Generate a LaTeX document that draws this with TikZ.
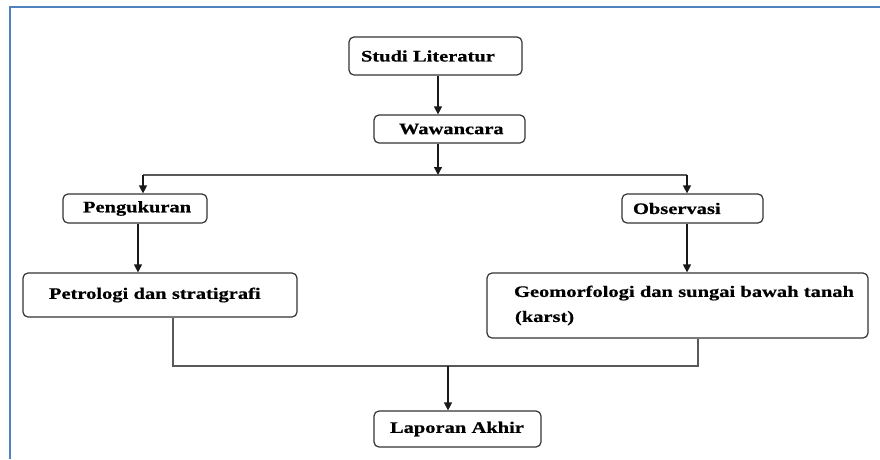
\documentclass[tikz,border=0pt]{standalone}
\usepackage{fontspec}
\newfontfamily\kotakfont[FakeStretch=1.28, FakeBold=0.6]{Liberation Serif}
\usetikzlibrary{arrows.meta}
\definecolor{bingkai}{RGB}{79,129,189}

\begin{document}
\begin{tikzpicture}[x=1pt, y=-1pt,
    kotak/.style={draw=black!80, line width=1.2pt, rounded corners=5pt, inner xsep=0pt, inner ysep=0pt, align=left,
        font=\kotakfont\bfseries\fontsize{16}{25}\selectfont},
    panah/.style={draw=black!90, line width=1.2pt, -{Triangle[length=8pt,width=8pt]}},
    garis/.style={draw=black!65, line width=1.2pt}]
    \useasboundingbox (0,0) rectangle (880,459);
    \draw[bingkai, line width=2pt] (9.5,459) -- (9.5,7) -- (880,7); % bingkai

    \node[kotak, text width=173pt, minimum height=38pt] (studi) at (435.5,56) {\hspace*{12pt}Studi Literatur};
    \node[kotak, text width=151pt, minimum height=28pt] (wawancara) at (449.5,129) {\hspace*{25pt}Wawancara};
    \node[kotak, text width=144pt, minimum height=29pt] (ukur) at (135,208.5) {\hspace*{20pt}Pengukuran};
    \node[kotak, text width=141pt, minimum height=29pt] (observasi) at (692.5,208.5) {\hspace*{11pt}Observasi};
    \node[kotak, text width=274pt, minimum height=44pt] (petro) at (160,295) {\hspace*{26pt}Petrologi dan stratigrafi};
    \node[kotak, text width=381pt, minimum height=65pt] (geo) at (677.5,305.5) {\hspace*{27pt}Geomorfologi dan sungai bawah tanah\\\hspace*{28pt}(karst)};
    \node[kotak, text width=167pt, minimum height=36pt] (laporan) at (457.5,429) {\hspace*{16pt}Laporan Akhir};

    \coordinate (bagi) at (438,175);
    \coordinate (kiri) at (143,175);
    \coordinate (kanan) at (687,175);
    \coordinate (gabung) at (448,366);

    \draw[panah] (studi.south -| bagi) -- (wawancara.north -| bagi);
    \draw[panah] (wawancara.south -| bagi) -- (bagi);
    \draw[garis] (kiri) -- (kanan);
    \draw[panah] (kiri) -- (kiri |- ukur.north);
    \draw[panah] (kanan) -- (kanan |- observasi.north);
    \draw[panah] ([xshift=3pt]ukur.south) -- ([xshift=3pt]ukur.south |- petro.north);
    \draw[panah] (observasi.south -| kanan) -- (petro.north -| kanan);

    % gabungan ke laporan
    \draw[garis] ([xshift=13pt]petro.south) -- ([xshift=13pt]petro.south |- gabung) -- (gabung -| 698,0) -- (geo.south -| 698,0);
    \draw[panah] (gabung) -- (gabung |- laporan.north);
\end{tikzpicture}
\end{document}
